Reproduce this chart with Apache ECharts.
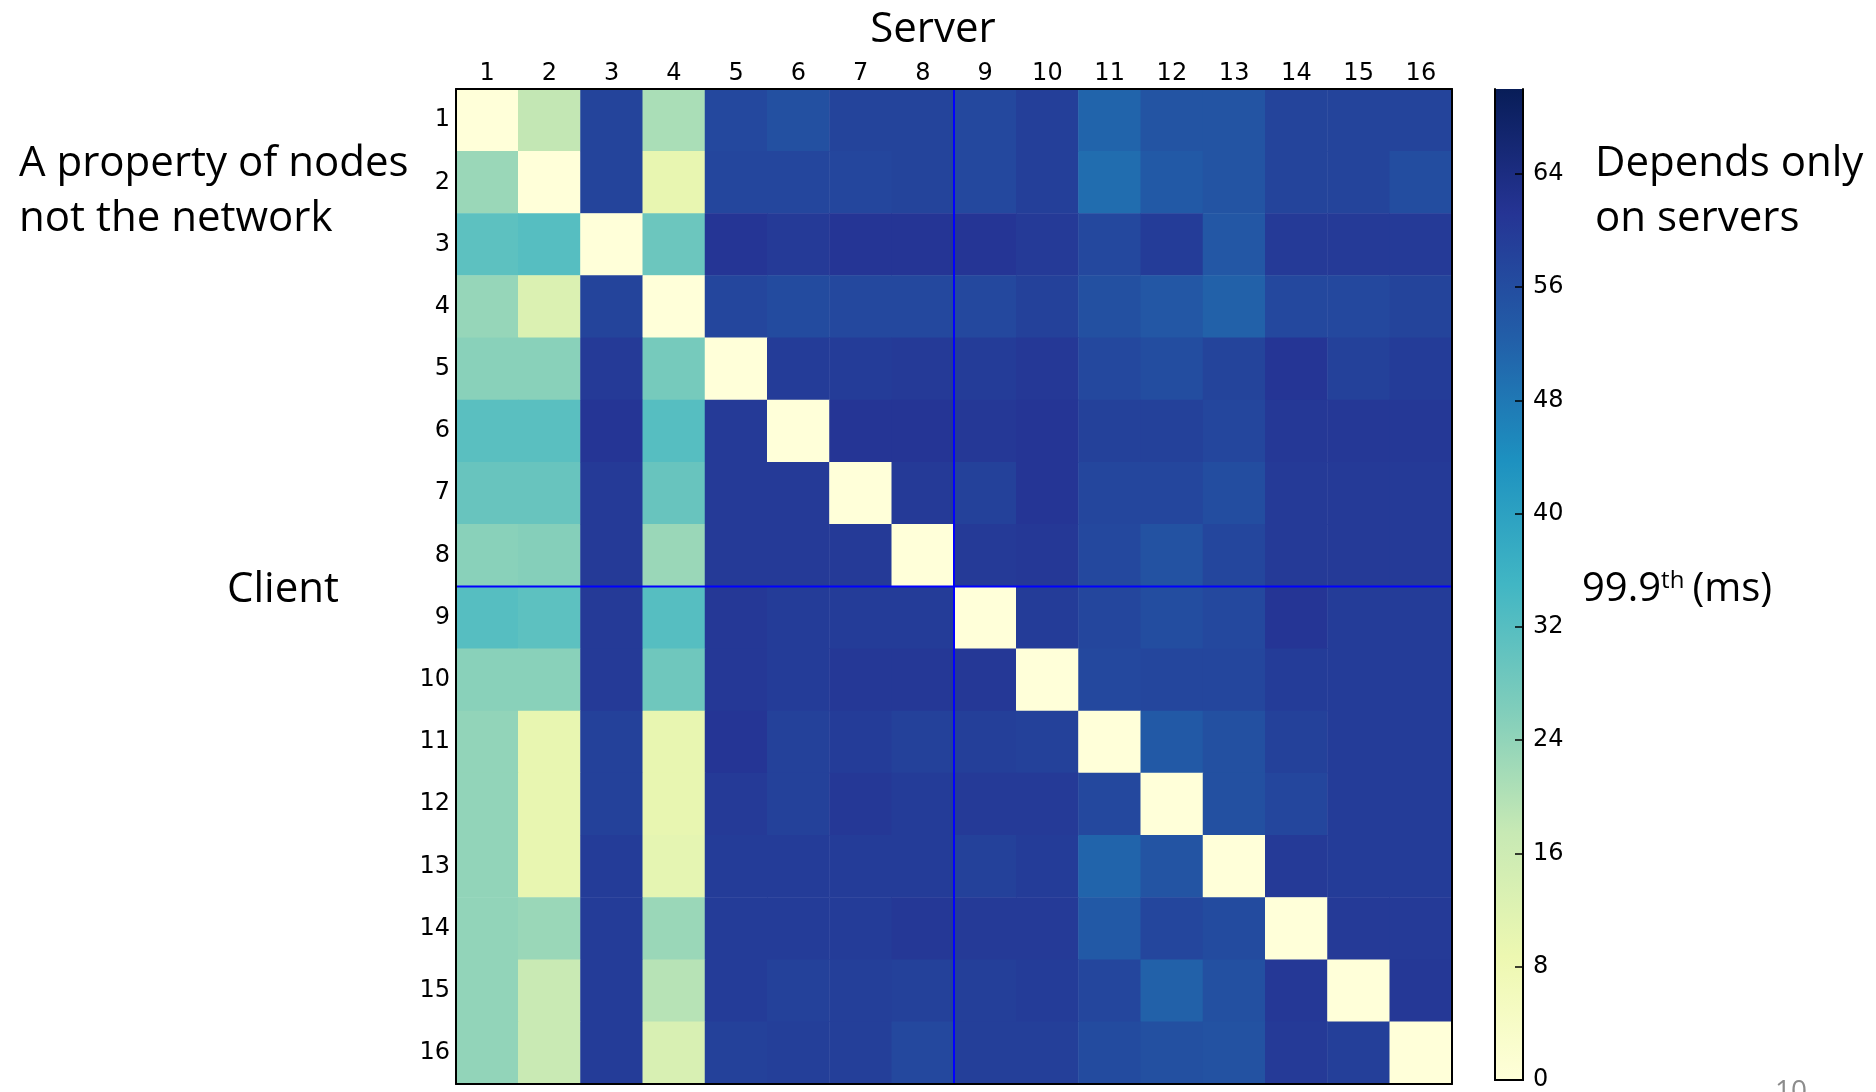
<!DOCTYPE html>
<html>
<head>
<meta charset="utf-8">
<script src="https://cdn.jsdelivr.net/npm/echarts@6/dist/echarts.min.js"></script>
<style>
html,body{margin:0;padding:0;background:#fff;}
#chart{width:1876px;height:1092px;}
</style>
</head>
<body>
<div id="chart"></div>
<script>
// ---- data ----
var servers = ['1','2','3','4','5','6','7','8','9','10','11','12','13','14','15','16'];
var clients = ['1','2','3','4','5','6','7','8','9','10','11','12','13','14','15','16'];
// 99.9th percentile latency (ms); row = client, column = server
var row1  = [0, 18, 58, 21, 57, 55.5, 58, 58, 57, 59, 51.5, 54.5, 54.5, 58, 58, 58];
var row2  = [23, 0, 58, 10, 57.5, 57.5, 57.5, 58, 57, 59, 50, 53.5, 54.5, 58, 58, 56];
var row3  = [31, 32, 0, 29, 61, 60, 61, 61, 61, 60, 57, 59.5, 54, 60, 60, 60];
var row4  = [23.5, 13, 58, 0, 57.5, 56.5, 57, 57, 57, 58.5, 55.5, 54, 52, 57, 57, 58];
var row5  = [25, 25, 60, 27.5, 0, 59.5, 59.5, 60, 59.5, 60.5, 57, 56, 58, 61, 58.5, 59.5];
var row6  = [31.5, 31.5, 61, 32, 60, 0, 61, 61, 60.5, 61, 58.5, 58.5, 57.5, 60.5, 60.5, 60.5];
var row7  = [29.5, 29.5, 60, 29.5, 60, 60, 0, 60, 58.5, 61, 57.5, 57.5, 56, 60, 60, 60];
var row8  = [25, 25.5, 60, 23, 60, 60, 60, 0, 60, 60.5, 57, 55, 57.5, 60, 60, 60];
var row9  = [32, 31, 60, 32, 60.5, 59.5, 59.5, 59.5, 0, 59.5, 57.5, 56, 57, 61, 59.5, 59.5];
var row10 = [25, 25, 60, 28.5, 60.5, 59.5, 60.5, 60.5, 60.5, 0, 57, 57.5, 57.5, 59.5, 59.5, 59.5];
var row11 = [24, 10, 58.5, 10, 61, 58.5, 59.5, 58.5, 59, 58.5, 0, 53.5, 55.5, 58.5, 59.5, 59.5];
var row12 = [24, 10, 58.5, 10, 60, 58.5, 60.5, 59.5, 60, 60, 57, 0, 55.5, 57.5, 59.5, 59.5];
var row13 = [24, 10, 59.5, 10.5, 59.5, 59.5, 59.5, 59.5, 58.5, 59.5, 51.5, 54.5, 0, 60, 59.5, 59.5];
var row14 = [24, 23, 59.5, 23, 59.5, 59.5, 59.5, 60.5, 60, 60, 53.5, 57.5, 56.5, 0, 60, 60];
var row15 = [24, 17, 59.5, 19.5, 59.5, 58.5, 59, 58.5, 59, 59.5, 57.5, 52, 55.5, 60.5, 0, 60.5];
var row16 = [24, 17, 59.5, 13.5, 58.5, 59, 59, 57, 59, 59, 56.5, 55.5, 55, 60, 59, 0];
var latency = [row1,row2,row3,row4,row5,row6,row7,row8,row9,row10,row11,row12,row13,row14,row15,row16];
var colorbarMin = 0;
var colorbarMax = 70;
var colorbarStep = 8;
var dividers = [8]; // blue separator after this many servers/clients
var ylgnbu = ['#ffffd9','#edf8b1','#c7e9b4','#7fcdbb','#41b6c4','#1d91c0','#225ea8','#253494','#081d58'];

// ---- build ----
var heatData = [];
latency.forEach(function(row, ci){
  row.forEach(function(v, si){ heatData.push([si, ci, v]); });
});
var n = servers.length;
var lineSeries = [];
dividers.forEach(function(d){
  lineSeries.push({type:'line', xAxisIndex:2, yAxisIndex:2, data:[[d,0],[d,n]], symbol:'none',
    lineStyle:{color:'#0000ff', width:2}, z:6, silent:true, animation:false});
  lineSeries.push({type:'line', xAxisIndex:2, yAxisIndex:2, data:[[0,d],[n,d]], symbol:'none',
    lineStyle:{color:'#0000ff', width:2}, z:6, silent:true, animation:false});
});
var gradStops = ylgnbu.map(function(c, i){ return {offset: i/(ylgnbu.length-1), color: c}; });

var TICKFONT = 'DejaVu Sans';
var SLIDEFONT = 'Open Sans';
var axisLineBlack = {show:true, lineStyle:{color:'#000', width:2}};

var chart = echarts.init(document.getElementById('chart'), null, {renderer:'canvas'});
var option = {
  backgroundColor:'#fff',
  animation:false,
  grid:[
    {left:456, top:89, width:996, height:995, containLabel:false},
    {left:1495, top:89, width:28, height:995, containLabel:false}
  ],
  xAxis:[
    {type:'category', gridIndex:0, data:servers, position:'top', z:10,
      axisLine:axisLineBlack, axisTick:{show:false}, splitLine:{show:false},
      axisLabel:{color:'#000', fontFamily:TICKFONT, fontSize:24, margin:3}},
    {type:'category', gridIndex:0, data:servers, position:'bottom', z:10,
      axisLine:axisLineBlack, axisTick:{show:false}, axisLabel:{show:false}, splitLine:{show:false}},
    {type:'value', gridIndex:0, min:0, max:n, show:false},
    {type:'category', gridIndex:1, data:['cb'], position:'bottom', z:10,
      axisLine:axisLineBlack, axisTick:{show:false}, axisLabel:{show:false}},
    {type:'category', gridIndex:1, data:['cb'], position:'top', z:10,
      axisLine:axisLineBlack, axisTick:{show:false}, axisLabel:{show:false}}
  ],
  yAxis:[
    {type:'category', gridIndex:0, data:clients, inverse:true, position:'left', z:10,
      axisLine:axisLineBlack, axisTick:{show:false}, splitLine:{show:false},
      axisLabel:{color:'#000', fontFamily:TICKFONT, fontSize:24, margin:6}},
    {type:'category', gridIndex:0, data:clients, inverse:true, position:'right', z:10,
      axisLine:axisLineBlack, axisTick:{show:false}, axisLabel:{show:false}, splitLine:{show:false}},
    {type:'value', gridIndex:0, min:0, max:n, inverse:true, show:false},
    {type:'value', gridIndex:1, min:colorbarMin, max:colorbarMax, interval:colorbarStep, position:'right', z:10,
      axisLine:axisLineBlack, splitLine:{show:false},
      axisTick:{show:true, inside:true, length:8, lineStyle:{color:'#000', width:1.5}},
      axisLabel:{color:'#000', fontFamily:TICKFONT, fontSize:24, margin:10, showMaxLabel:false,
        formatter:function(v){ return v === colorbarMax ? '' : String(v); }}},
    {type:'value', gridIndex:1, min:colorbarMin, max:colorbarMax, position:'left', z:10,
      axisLine:axisLineBlack, axisTick:{show:false}, axisLabel:{show:false}, splitLine:{show:false}}
  ],
  visualMap:{type:'continuous', show:false, min:colorbarMin, max:colorbarMax, seriesIndex:0,
    inRange:{color:ylgnbu}},
  series:[
    {type:'heatmap', xAxisIndex:0, yAxisIndex:0, data:heatData, itemStyle:{borderWidth:0}, z:2, silent:true},
    {type:'bar', xAxisIndex:3, yAxisIndex:3, data:[colorbarMax], barWidth:'100%', silent:true, z:2,
      itemStyle:{color:{type:'linear', x:0, y:1, x2:0, y2:0, colorStops:gradStops}}}
  ].concat(lineSeries),
  graphic:[
    {type:'text', x:933, y:30, style:{text:'Server', font:'42px "Open Sans"', fill:'#000', align:'center', verticalAlign:'middle'}},
    {type:'text', x:227, y:590, style:{text:'Client', font:'42px "Open Sans"', fill:'#000', align:'left', verticalAlign:'middle'}},
    {type:'text', x:19, y:164, style:{text:'A property of nodes', font:'42px "Open Sans"', fill:'#000', align:'left', verticalAlign:'middle'}},
    {type:'text', x:19, y:219, style:{text:'not the network', font:'42px "Open Sans"', fill:'#000', align:'left', verticalAlign:'middle'}},
    {type:'text', x:1595, y:164, style:{text:'Depends only', font:'42px "Open Sans"', fill:'#000', align:'left', verticalAlign:'middle'}},
    {type:'text', x:1595, y:219, style:{text:'on servers', font:'42px "Open Sans"', fill:'#000', align:'left', verticalAlign:'middle'}},
    {type:'text', x:1582, y:590, style:{
      text:'{a|99.9}{s|th}{b|(ms)}', align:'left', verticalAlign:'middle',
      rich:{
        a:{fontFamily:SLIDEFONT, fontSize:40, fill:'#000', color:'#000'},
        b:{fontFamily:SLIDEFONT, fontSize:40, fill:'#000', color:'#000', padding:[0,0,0,8]},
        s:{fontFamily:SLIDEFONT, fontSize:24, fill:'#000', color:'#000', padding:[0,0,18,0]}
      }}},
    {type:'text', x:1775, y:1078, style:{text:'10', font:'28px "Open Sans"', fill:'#8c8c8c', align:'left', verticalAlign:'top'}}
  ]
};
chart.setOption(option);
</script>
</body>
</html>
